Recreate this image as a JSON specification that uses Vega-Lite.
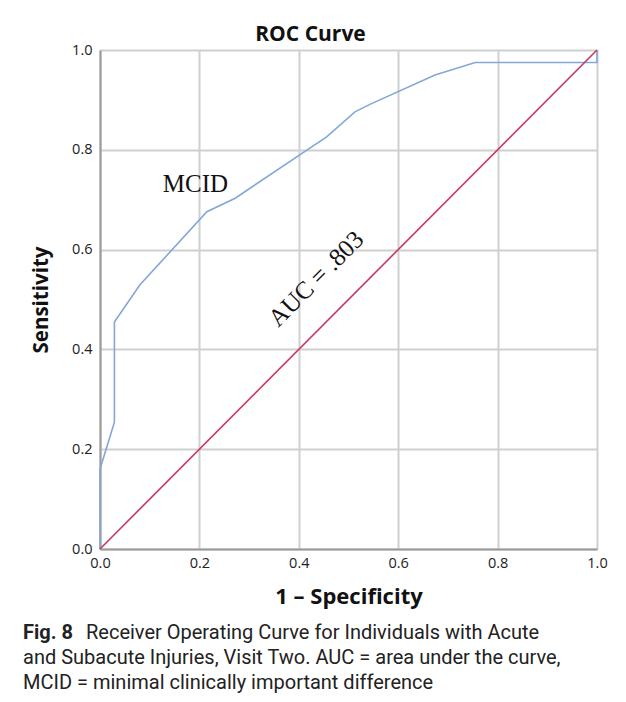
{
  "$schema": "https://vega.github.io/schema/vega-lite/v6.json",
  "padding": {"left": 23, "top": 24, "right": 5, "bottom": 5},
  "bounds": "flush",
  "spacing": 77,
  "background": "white",
  "config": {"view": {"stroke": null}, "font": "Open Sans"},
  "vconcat": [
    {
      "width": 497,
      "height": 499,
      "title": {"text": "ROC Curve", "fontSize": 21, "fontWeight": "bold", "font": "Open Sans", "anchor": "middle", "frame": "group", "dx": -38, "offset": -20, "baseline": "alphabetic", "color": "#111111"},
      "layer": [
        {
          "data": {"values": [
            {"series": "MCID", "step": 1, "fpr": 0.0, "tpr": 0.0},
            {"series": "MCID", "step": 2, "fpr": 0.0, "tpr": 0.16},
            {"series": "MCID", "step": 3, "fpr": 0.029, "tpr": 0.254},
            {"series": "MCID", "step": 4, "fpr": 0.029, "tpr": 0.455},
            {"series": "MCID", "step": 5, "fpr": 0.080, "tpr": 0.529},
            {"series": "MCID", "step": 6, "fpr": 0.215, "tpr": 0.676},
            {"series": "MCID", "step": 7, "fpr": 0.272, "tpr": 0.703},
            {"series": "MCID", "step": 8, "fpr": 0.456, "tpr": 0.826},
            {"series": "MCID", "step": 9, "fpr": 0.513, "tpr": 0.876},
            {"series": "MCID", "step": 10, "fpr": 0.543, "tpr": 0.891},
            {"series": "MCID", "step": 11, "fpr": 0.674, "tpr": 0.950},
            {"series": "MCID", "step": 12, "fpr": 0.755, "tpr": 0.975},
            {"series": "MCID", "step": 13, "fpr": 1.0, "tpr": 0.975},
            {"series": "MCID", "step": 14, "fpr": 1.0, "tpr": 1.0},
            {"series": "Reference", "step": 1, "fpr": 0.0, "tpr": 0.0},
            {"series": "Reference", "step": 2, "fpr": 1.0, "tpr": 1.0}
          ]},
          "mark": {"type": "line", "strokeWidth": 1.6},
          "encoding": {
            "x": {"field": "fpr", "type": "quantitative", "scale": {"domain": [0, 1], "nice": false},
              "axis": {"values": [0, 0.2, 0.4, 0.6, 0.8, 1], "format": ".1f", "title": "1 – Specificity",
                "titleFontSize": 22, "titleFontWeight": "bold", "titleFont": "Open Sans", "titleColor": "#111111", "titlePadding": 17,
                "labelFontSize": 14.5, "labelColor": "#222222", "labelPadding": 7, "labelFlush": false, "ticks": false,
                "domainColor": "#9a9a9a", "domainWidth": 2, "gridColor": "#d0d0d0", "gridWidth": 2}},
            "y": {"field": "tpr", "type": "quantitative", "scale": {"domain": [0, 1], "nice": false},
              "axis": {"values": [0, 0.2, 0.4, 0.6, 0.8, 1], "format": ".1f", "title": "Sensitivity",
                "titleFontSize": 20.5, "titleFontWeight": "bold", "titleFont": "Open Sans", "titleColor": "#111111", "titlePadding": 20,
                "labelFontSize": 14.5, "labelColor": "#222222", "labelPadding": 8, "labelFlush": false, "ticks": false,
                "domainColor": "#9a9a9a", "domainWidth": 2, "gridColor": "#d0d0d0", "gridWidth": 2}},
            "color": {"field": "series", "type": "nominal", "scale": {"domain": ["MCID", "Reference"], "range": ["#84a7d8", "#c43a5c"]}, "legend": null},
            "order": {"field": "step", "type": "quantitative"}
          }
        },
        {
          "data": {"values": [{"x": 0.192, "y": 0.715, "label": "MCID"}]},
          "mark": {"type": "text", "font": "Liberation Serif", "fontSize": 25, "align": "center", "baseline": "alphabetic", "color": "#111111"},
          "encoding": {
            "x": {"field": "x", "type": "quantitative"},
            "y": {"field": "y", "type": "quantitative"},
            "text": {"field": "label"}
          }
        },
        {
          "data": {"values": [{"x": 0.446, "y": 0.530, "label": "AUC = .803"}]},
          "mark": {"type": "text", "font": "Liberation Serif", "fontSize": 25, "align": "center", "baseline": "alphabetic", "angle": 315, "color": "#111111"},
          "encoding": {
            "x": {"field": "x", "type": "quantitative"},
            "y": {"field": "y", "type": "quantitative"},
            "text": {"field": "label"}
          }
        }
      ]
    },
    {
      "width": 497,
      "height": 75,
      "layer": [
        {
          "data": {"values": [{"line": 1, "text": "Fig. 8"}]},
          "mark": {"type": "text", "align": "left", "baseline": "alphabetic", "font": "Roboto", "fontWeight": "bold", "fontSize": 20, "dx": -77, "color": "#222222"},
          "encoding": {
            "x": {"datum": 0, "type": "quantitative", "scale": {"domain": [0, 1]}, "axis": null},
            "y": {"field": "line", "type": "ordinal", "scale": {"domain": [1, 2, 3], "paddingInner": 0, "paddingOuter": 0}, "axis": null},
            "text": {"field": "text"}
          }
        },
        {
          "data": {"values": [{"line": 1, "text": "Receiver Operating Curve for Individuals with Acute"}]},
          "mark": {"type": "text", "align": "left", "baseline": "alphabetic", "font": "Roboto", "fontSize": 20, "dx": -14, "color": "#222222"},
          "encoding": {
            "x": {"datum": 0, "type": "quantitative"},
            "y": {"field": "line", "type": "ordinal"},
            "text": {"field": "text"}
          }
        },
        {
          "data": {"values": [
            {"line": 2, "text": "and Subacute Injuries, Visit Two. AUC = area under the curve,"},
            {"line": 3, "text": "MCID = minimal clinically important difference"}
          ]},
          "mark": {"type": "text", "align": "left", "baseline": "alphabetic", "font": "Roboto", "fontSize": 20, "dx": -77, "color": "#222222"},
          "encoding": {
            "x": {"datum": 0, "type": "quantitative"},
            "y": {"field": "line", "type": "ordinal"},
            "text": {"field": "text"}
          }
        }
      ]
    }
  ]
}
